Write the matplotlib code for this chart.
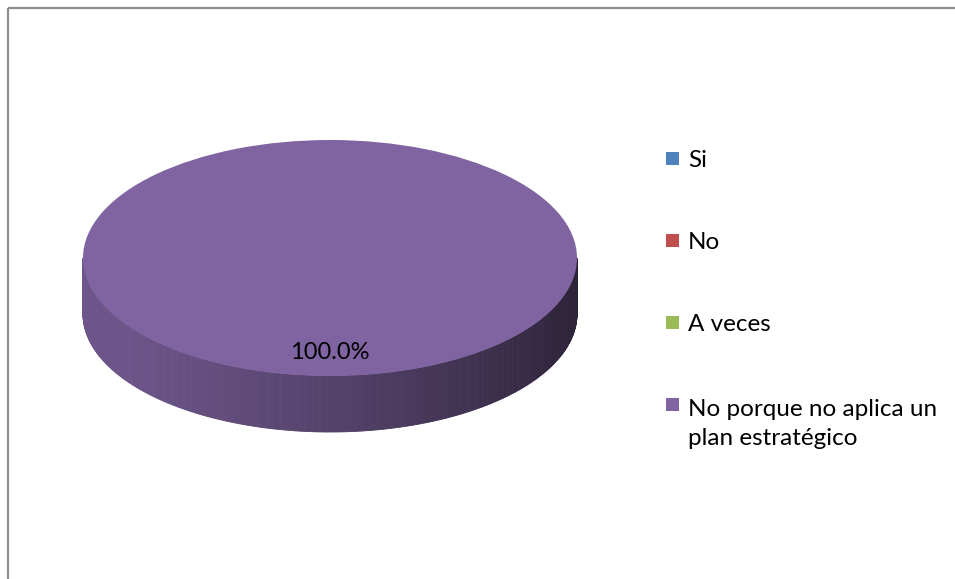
import numpy as np
import matplotlib.pyplot as plt
from matplotlib.patches import Rectangle, Wedge, Polygon
from matplotlib.transforms import Affine2D
from matplotlib.colors import to_rgb

# Data
labels = ["Si", "No", "A veces", "No porque no aplica un\nplan estratégico"]
values = [0, 0, 0, 100]
colors = ["#4f81bd", "#c0504d", "#9bbb59", "#8064a2"]

plt.rcParams['font.family'] = ['Lato', 'DejaVu Sans']

fig = plt.figure(figsize=(9.55, 5.79), dpi=100)
ax = fig.add_axes([0, 0, 1, 1])
ax.set_xlim(0, 955)
ax.set_ylim(579, 0)
ax.axis("off")

# chart frame (only top and left edges are visible in the crop)
ax.add_patch(Rectangle((7.5, 7.5), 1200, 800, fill=False, ec="#8c8c8c", lw=1.6))

# pie geometry (pixels)
cx, cy, rx, ry, depth = 330, 258, 247, 118, 56
# unit circle -> ellipse, y axis points down in this axes
tf = Affine2D().scale(rx, -ry).translate(cx, cy) + ax.transData

total = float(sum(values))
start = 90.0  # 12 o'clock, clockwise like Excel
angle = start
slices = []
for v, c in zip(values, colors):
    if v <= 0:
        continue
    sweep = 360.0 * v / total
    slices.append((angle - sweep, angle, c))
    angle -= sweep

# side wall: visible lower half of ellipse (angles 180..360), shaded
for t1, t2, c in slices:
    base = np.array(to_rgb(c))
    a = np.linspace(180, 360, 361)
    for a0, a1 in zip(a[:-1], a[1:]):
        mid = a0 + 0.25
        m = (mid - t1) % 360
        if m > (t2 - t1) and (t2 - t1) < 360:
            continue
        x0, x1 = np.cos(np.radians(a0)), np.cos(np.radians(a1))
        y0, y1 = np.sin(np.radians(a0)), np.sin(np.radians(a1))
        pts = [(cx + rx * x0, cy - ry * y0), (cx + rx * x1, cy - ry * y1),
               (cx + rx * x1, cy - ry * y1 + depth), (cx + rx * x0, cy - ry * y0 + depth)]
        f = (x0 + 1) / 2  # 0 at left, 1 at right
        shade = 0.86 - 0.50 * f ** 1.3
        col = np.clip(base * shade, 0, 1)
        ax.add_patch(Polygon(pts, closed=True, fc=col, ec=col, lw=0.6))

# top face
for t1, t2, c in slices:
    ax.add_patch(Wedge((0, 0), 1, t1, t2, fc=c, ec="none", transform=tf))

# data label
for v in values:
    if v > 0:
        ax.text(cx, 359, f"{v / total * 100:.1f}%", ha="center", va="baseline",
                fontsize=17, color="black")

# legend
line_h = 32
for i, (lab, c) in enumerate(zip(labels, colors)):
    y = 159 + i * 82
    ax.add_patch(Rectangle((666, y - 7), 13, 13, fc=c, ec="none"))
    # baseline alignment uses the last line, so push multi-line labels down
    yb = y + 8 + lab.count("\n") * line_h
    ax.text(688, yb, lab, ha="left", va="baseline", fontsize=17.5,
            color="black", linespacing=1.45)

fig.savefig("out.png", dpi=100)
